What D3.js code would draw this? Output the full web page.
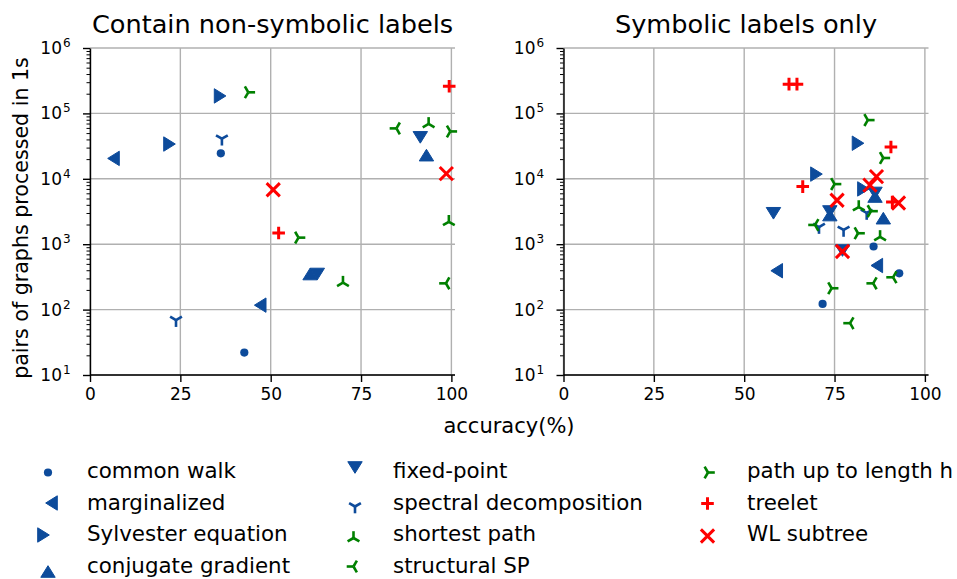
<!DOCTYPE html>
<html><head><meta charset="utf-8">
<script src="https://cdn.jsdelivr.net/npm/d3@7"></script>
<style>body{margin:0;background:#fff} text{font-family:"DejaVu Sans",sans-serif;fill:#000}</style>
</head><body><svg id="c" width="957" height="579"></svg>
<script>
// ---------- data ----------
const methods = ["common walk","marginalized","Sylvester equation","conjugate gradient","fixed-point",
  "spectral decomposition","shortest path","structural SP","path up to length h","treelet","WL subtree"];
const panelTitles = ["Contain non-symbolic labels","Symbolic labels only"];
const xTickValues = [0,25,50,75,100];
const yTickExponents = [1,2,3,4,5,6];
const xAxisLabel = "accuracy(%)";
const yAxisLabel = "pairs of graphs processed in 1s";
// [accuracy %, pairs per second], series in the order of `methods`
const nonSymbolic = [
  [[36.2,24500],[42.7,22]],
  [[6.5,20500],[47.1,117]],
  [[36.0,185000],[22.0,34000]],
  [[93.1,23000],[60.9,350]],
  [[91.4,43000],[62.9,350]],
  [[36.5,41000],[23.8,69]],
  [[93.7,69000],[99.3,2200],[70.0,258]],
  [[84.8,59000],[98.5,252]],
  [[43.8,210000],[99.7,53000],[57.7,1260]],
  [[99.4,260000],[52.2,1480]],
  [[50.7,6800],[98.6,12000]]
];
const symbolicOnly = [
  [[85.8,923],[92.9,359],[71.7,122]],
  [[86.7,472],[59.0,393]],
  [[81.5,35000],[70.0,11800],[83.0,7000]],
  [[88.5,2500],[73.7,2790],[86.2,5360]],
  [[58.1,2970],[73.7,3160],[86.2,6070],[77.2,800]],
  [[83.9,3000],[70.7,1830],[77.5,1650]],
  [[81.7,3700],[87.6,1290]],
  [[69.6,1970],[91.2,312],[85.7,252],[79.3,62]],
  [[84.2,79000],[88.5,20800],[75.0,8300],[85.1,3200],[81.5,1470],[74.2,212]],
  [[62.4,280000],[64.6,280000],[90.6,30600],[66.2,7600],[91.0,4400]],
  [[86.6,10800],[84.8,8000],[75.7,4700],[92.7,4270],[77.2,773]]
];

// ---------- styles ----------
const BLUE = "#0d4b9b", GREEN = "#008000", RED = "#ff0000";
const shapes = ["circle","left","right","up","down","tri1","tri2","tri3","tri4","plus","x"];
const colors = [BLUE,BLUE,BLUE,BLUE,BLUE,BLUE,GREEN,GREEN,GREEN,RED,RED];
// legend handle positions (px)
const legendMarkerPos = [[48,472.5],[51.5,503],[43.5,535],[48,571.5],[355,467.5],[355,506.5],
  [353.5,538],[353.5,566.5],[708,472.5],[707.5,503.5],[707.5,536]];
const legendTextX = [87,393,747];
const legendBaseline = [478,509.5,541,572.5];

function marker(g, shape, color, x, y) {
  const b = 7.2, a = 5.8, r = 6.8;
  const tri = pts => g.append("path").attr("d","M"+pts.map(p=>(x+p[0])+","+(y+p[1])).join("L")+"Z")
      .attr("fill",color).attr("stroke",color).attr("stroke-width",1);
  const arms = (pts, w) => pts.forEach(p => g.append("line").attr("x1",x).attr("y1",y)
      .attr("x2",x+p[0]).attr("y2",y+p[1]).attr("stroke",color).attr("stroke-width",w));
  const c = 0.866, s = 0.5;
  switch (shape) {
    case "circle": g.append("circle").attr("cx",x).attr("cy",y).attr("r",4.1).attr("fill",color); break;
    case "up": tri([[0,-a],[-b,a],[b,a]]); break;
    case "down": tri([[0,a],[-b,-a],[b,-a]]); break;
    case "left": tri([[-a,0],[a,-b],[a,b]]); break;
    case "right": tri([[a,0],[-a,-b],[-a,b]]); break;
    case "tri1": arms([[0,r],[-c*r,-s*r],[c*r,-s*r]],2.6); break;
    case "tri2": arms([[0,-r],[-c*r,s*r],[c*r,s*r]],2.6); break;
    case "tri3": arms([[-r,0],[s*r,-c*r],[s*r,c*r]],2.6); break;
    case "tri4": arms([[r,0],[-s*r,-c*r],[-s*r,c*r]],2.6); break;
    case "plus": { const q = 6.3; g.append("path").attr("d",`M${x-q},${y}H${x+q}M${x},${y-q}V${y+q}`)
        .attr("stroke",color).attr("stroke-width",3).attr("fill","none"); break; }
    case "x": { const q = 6.6; g.append("path").attr("d",`M${x-q},${y-q}L${x+q},${y+q}M${x-q},${y+q}L${x+q},${y-q}`)
        .attr("stroke",color).attr("stroke-width",3).attr("fill","none"); break; }
  }
}

const svg = d3.select("#c");
const y = d3.scaleLog().domain([10,1e6]).range([375,48]);
const panels = [
  {data: nonSymbolic, x: d3.scaleLinear().domain([0,101]).range([90,455])},
  {data: symbolicOnly, x: d3.scaleLinear().domain([0,101]).range([563.5,928.5])}
];

panels.forEach((p, pi) => {
  const x = p.x, g = svg.append("g");
  const [x0, x1] = x.range();
  // grid
  const grid = g.append("g").attr("stroke","#b0b0b0").attr("stroke-width",1.4);
  xTickValues.forEach(v => grid.append("line").attr("x1",x(v)).attr("x2",x(v)).attr("y1",y(1e6)).attr("y2",y(10)));
  yTickExponents.forEach(e => grid.append("line").attr("x1",x0).attr("x2",x1).attr("y1",y(10**e)).attr("y2",y(10**e)));
  // points
  p.data.forEach((series, si) => series.forEach(d => marker(g, shapes[si], colors[si], x(d[0]), y(d[1]))));
  // x axis
  const xa = g.append("g").attr("transform","translate(0,375)")
    .call(d3.axisBottom(x).tickValues(xTickValues).tickSize(7).tickPadding(6).tickSizeOuter(0));
  xa.select(".domain").attr("stroke","#000").attr("stroke-width",1.4).attr("d",`M${x0},0H${x1}`);
  xa.selectAll(".tick line").attr("stroke-width",1.4);
  xa.selectAll(".tick text").attr("font-size",17).attr("font-family","DejaVu Sans");
  // y minor ticks
  const minor = [];
  for (let e = 1; e < 6; e++) for (let m = 2; m <= 9; m++) minor.push(m * 10**e);
  const ym = g.append("g").attr("transform",`translate(${x0},0)`)
    .call(d3.axisLeft(y).tickValues(minor).tickSize(3.5).tickFormat(""));
  ym.select(".domain").remove();
  ym.selectAll(".tick line").attr("stroke-width",1);
  // y axis major
  const ya = g.append("g").attr("transform",`translate(${x0},0)`)
    .call(d3.axisLeft(y).tickValues(yTickExponents.map(e=>10**e)).tickSize(7).tickFormat("").tickSizeOuter(0));
  ya.select(".domain").attr("stroke","#000").attr("stroke-width",1.4);
  ya.selectAll(".tick line").attr("stroke-width",1.4);
  yTickExponents.forEach(e => {
    g.append("text").attr("x",x0-28).attr("y",y(10**e)+6).attr("text-anchor","end").attr("font-size",17).text("10");
    g.append("text").attr("x",x0-27).attr("y",y(10**e)-1).attr("font-size",12).text(e);
  });
  // title
  g.append("text").attr("x",(x0+x1)/2).attr("y",33).attr("text-anchor","middle").attr("font-size",25.6).text(panelTitles[pi]);
});

svg.append("text").attr("x",509).attr("y",433).attr("text-anchor","middle").attr("font-size",21).text(xAxisLabel);
svg.append("text").attr("transform","translate(28,218) rotate(-90)").attr("text-anchor","middle").attr("font-size",20.6).text(yAxisLabel);

// legend
methods.forEach((m, i) => {
  const col = Math.floor(i / 4), row = i % 4;
  const pos = legendMarkerPos[i];
  marker(svg.append("g"), shapes[i], colors[i], pos[0], pos[1]);
  svg.append("text").attr("x",legendTextX[col]).attr("y",legendBaseline[row]).attr("font-size",21.4).text(m);
});
</script></body></html>
